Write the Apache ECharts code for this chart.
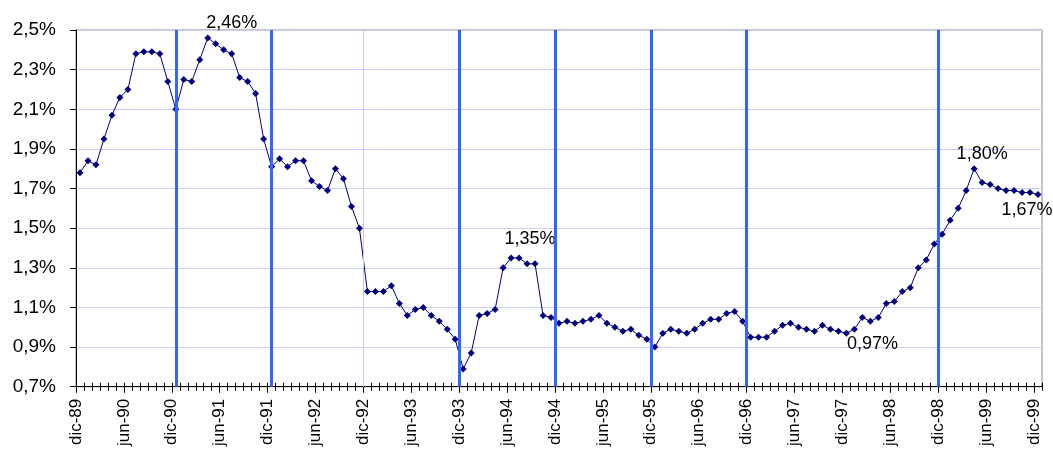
<!DOCTYPE html>
<html>
<head>
<meta charset="utf-8">
<script src="https://cdn.jsdelivr.net/npm/echarts@6/dist/echarts.min.js"></script>
<style>
  html, body { margin: 0; padding: 0; background: #fff; }
  #chart { width: 1053px; height: 449px; }
</style>
</head>
<body>
<div id="chart"></div>
<script>
// tick labels, one every 6 months (dic-89 .. dic-99)
const tickLabels = ['dic-89', 'jun-90', 'dic-90', 'jun-91', 'dic-91', 'jun-92', 'dic-92',
  'jun-93', 'dic-93', 'jun-94', 'dic-94', 'jun-95', 'dic-95', 'jun-96', 'dic-96',
  'jun-97', 'dic-97', 'jun-98', 'dic-98', 'jun-99', 'dic-99'];

// monthly values in %, dic-89 .. dic-99 (121 months)
const values = [
  1.78, 1.84, 1.82, 1.95, 2.07, 2.16, 2.20, 2.38, 2.39, 2.39, 2.38, 2.24,
  2.10, 2.25, 2.24, 2.35, 2.46, 2.43, 2.40, 2.38, 2.26, 2.24, 2.18, 1.95,
  1.81, 1.85, 1.81, 1.84, 1.84, 1.74, 1.71, 1.69, 1.80, 1.75, 1.61, 1.50,
  1.18, 1.18, 1.18, 1.21, 1.12, 1.06, 1.09, 1.10, 1.06, 1.03, 0.99, 0.94,
  0.79, 0.87, 1.06, 1.07, 1.09, 1.30, 1.35, 1.35, 1.32, 1.32, 1.06, 1.05,
  1.02, 1.03, 1.02, 1.03, 1.04, 1.06, 1.02, 1.00, 0.98, 0.99, 0.96, 0.94,
  0.90, 0.97, 0.99, 0.98, 0.97, 0.99, 1.02, 1.04, 1.04, 1.07, 1.08, 1.03,
  0.95, 0.95, 0.95, 0.98, 1.01, 1.02, 1.00, 0.99, 0.98, 1.01, 0.99, 0.98,
  0.97, 0.99, 1.05, 1.03, 1.05, 1.12, 1.13, 1.18, 1.20, 1.30, 1.34, 1.42,
  1.47, 1.54, 1.60, 1.69, 1.80, 1.73, 1.72, 1.70, 1.69, 1.69, 1.68, 1.68,
  1.67
];

// labelled points: month index and label offset
const labelled = { 16: [24, -15], 55: [11, -19], 96: [26, 11], 112: [8, -15], 120: [-11, 16] };

// vertical markers (month positions)
const blueLines = [12.5, 24.5, 48, 60, 72, 84, 108];
const greyLines = [36];

const fmt = v => v.toFixed(2).replace('.', ',') + '%';
const font = 'Liberation Sans, Arial, sans-serif';

const seriesData = values.map((v, i) => {
  const item = { value: [i + 0.5, v] };
  if (labelled[i]) {
    item.label = {
      show: true, position: 'inside', offset: labelled[i],
      formatter: () => fmt(v), color: '#000', fontSize: 18, fontFamily: font
    };
  }
  return item;
});

// monthly ticks crossing the axis: one axis with ticks below, one with ticks above
const minorAxis = inside => ({
  type: 'value', position: 'bottom', min: 0, max: values.length, interval: 1,
  axisLine: { show: false },
  axisTick: { show: true, inside: inside, length: 4, lineStyle: { color: '#000' } },
  axisLabel: { show: false },
  splitLine: { show: false }
});

const chart = echarts.init(document.getElementById('chart'));
chart.setOption({
  animation: false,
  backgroundColor: '#fff',
  grid: { left: 76, top: 30, right: 11, bottom: 62, show: true, borderColor: '#888', borderWidth: 1 },
  xAxis: [
    {
      type: 'value', position: 'bottom', min: 0, max: values.length, interval: 6,
      axisLine: { lineStyle: { color: '#000', width: 1 } },
      axisTick: { show: true, length: 6, lineStyle: { color: '#000' } },
      axisLabel: {
        rotate: 90, margin: 12, fontSize: 17, fontFamily: font, color: '#000',
        showMaxLabel: false,
        formatter: v => (v % 6 === 0 && tickLabels[v / 6]) ? tickLabels[v / 6] : ''
      },
      splitLine: { show: false }
    },
    minorAxis(false),
    minorAxis(true)
  ],
  yAxis: {
    type: 'value', min: 0.7, max: 2.5, interval: 0.2,
    axisLine: { show: true, lineStyle: { color: '#000', width: 1 } },
    axisTick: { show: true, length: 6, lineStyle: { color: '#000' } },
    axisLabel: {
      margin: 20, fontSize: 19, fontFamily: font, color: '#000',
      formatter: v => v.toFixed(1).replace('.', ',') + '%'
    },
    splitLine: { show: true, lineStyle: { color: '#ccccff', width: 1 } }
  },
  series: [{
    type: 'line',
    data: seriesData,
    symbol: 'diamond',
    symbolSize: 7,
    color: '#000080',
    lineStyle: { color: '#000080', width: 1 },
    itemStyle: { color: '#000080' },
    markLine: {
      silent: true,
      symbol: 'none',
      label: { show: false },
      data: blueLines.map(x => ({ xAxis: x, lineStyle: { color: '#3366ff', width: 3, type: 'solid' } }))
        .concat(greyLines.map(x => ({ xAxis: x, lineStyle: { color: '#c8c8f4', width: 1, type: 'solid' } })))
    }
  }]
});
</script>
</body>
</html>
